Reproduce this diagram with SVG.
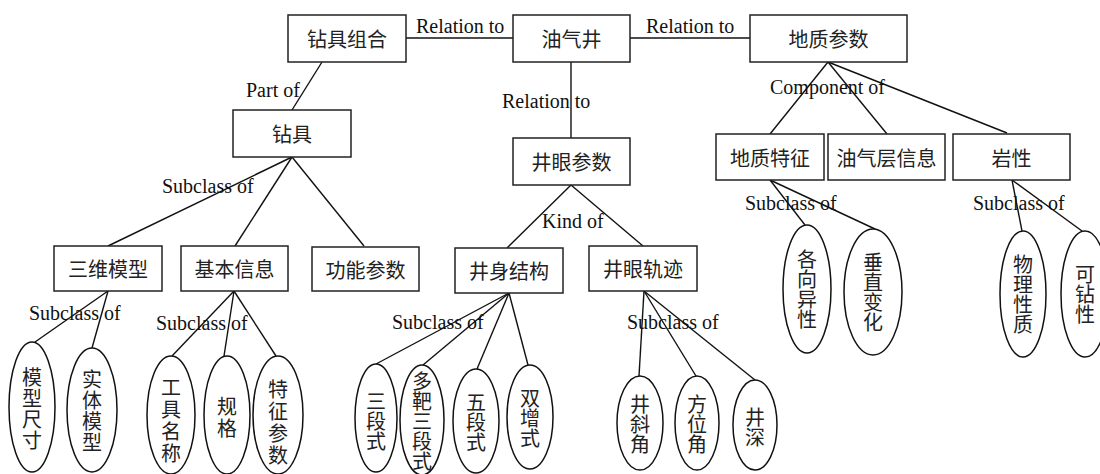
<svg xmlns="http://www.w3.org/2000/svg" width="1100" height="474" viewBox="0 0 1100 474">
<style>
.box{fill:#fff;stroke:#222;stroke-width:1.5}
.ell{fill:#fff;stroke:#111;stroke-width:1.5}
.ln{stroke:#111;stroke-width:1.4;fill:none}
.cn{font-family:"Noto Sans CJK SC",sans-serif;font-size:20px;fill:#222;text-anchor:middle;dominant-baseline:central}
.vt{font-family:"Noto Sans CJK SC",sans-serif;font-size:20px;fill:#222;text-anchor:middle;writing-mode:vertical-rl}
.lb{font-family:"Liberation Serif",serif;font-size:20px;fill:#111}
</style>
<rect width="1100" height="474" fill="#fff"/>
<g id="connectors">
<line class="ln" x1="406" y1="38" x2="513" y2="38"/>
<line class="ln" x1="630" y1="38" x2="750" y2="38"/>
<line class="ln" x1="571" y1="62" x2="571" y2="138"/>
<line class="ln" x1="322" y1="62" x2="292" y2="110"/>
<line class="ln" x1="292" y1="157" x2="108" y2="246"/>
<line class="ln" x1="292" y1="157" x2="235" y2="246"/>
<line class="ln" x1="292" y1="157" x2="364" y2="246"/>
<line class="ln" x1="571" y1="185" x2="507" y2="248"/>
<line class="ln" x1="571" y1="185" x2="643" y2="246"/>
<line class="ln" x1="828" y1="62" x2="770" y2="134"/>
<line class="ln" x1="828" y1="62" x2="887" y2="134"/>
<line class="ln" x1="828" y1="62" x2="1007" y2="133"/>
<line class="ln" x1="108" y1="291" x2="35" y2="342"/>
<line class="ln" x1="108" y1="291" x2="92" y2="348"/>
<line class="ln" x1="234" y1="291" x2="172" y2="356"/>
<line class="ln" x1="234" y1="291" x2="224" y2="356"/>
<line class="ln" x1="234" y1="291" x2="276" y2="356"/>
<line class="ln" x1="509" y1="293" x2="376" y2="364"/>
<line class="ln" x1="509" y1="293" x2="423" y2="365"/>
<line class="ln" x1="509" y1="293" x2="477" y2="369"/>
<line class="ln" x1="509" y1="293" x2="528" y2="365"/>
<line class="ln" x1="644" y1="291" x2="639" y2="376"/>
<line class="ln" x1="644" y1="291" x2="696" y2="376"/>
<line class="ln" x1="644" y1="291" x2="755" y2="380"/>
<line class="ln" x1="770" y1="180" x2="805" y2="225"/>
<line class="ln" x1="770" y1="180" x2="875" y2="229"/>
<line class="ln" x1="1012" y1="180" x2="1022" y2="231"/>
<line class="ln" x1="1012" y1="180" x2="1082" y2="231"/>
<text class="lb" x="416" y="33">Relation to</text>
<text class="lb" x="646" y="33">Relation to</text>
<text class="lb" x="246" y="97">Part of</text>
<text class="lb" x="502" y="108">Relation to</text>
<text class="lb" x="770" y="94">Component of</text>
<text class="lb" x="162" y="193">Subclass of</text>
<text class="lb" x="542" y="228">Kind of</text>
<text class="lb" x="745" y="210">Subclass of</text>
<text class="lb" x="973" y="210">Subclass of</text>
<text class="lb" x="29" y="320">Subclass of</text>
<text class="lb" x="156" y="330">Subclass of</text>
<text class="lb" x="392" y="329">Subclass of</text>
<text class="lb" x="627" y="329">Subclass of</text>
</g>
<g id="n-zjzh"><rect class="box" x="288" y="15" width="118" height="47"/><text class="cn" x="347" y="38.5">钻具组合</text></g>
<g id="n-yqj"><rect class="box" x="513" y="15" width="117" height="47"/><text class="cn" x="571.5" y="38.5">油气井</text></g>
<g id="n-dzcs"><rect class="box" x="750" y="15" width="157" height="47"/><text class="cn" x="828.5" y="38.5">地质参数</text></g>
<g id="n-zj"><rect class="box" x="233" y="110" width="118" height="47"/><text class="cn" x="292" y="133.5">钻具</text></g>
<g id="n-jycs"><rect class="box" x="513" y="138" width="117" height="47"/><text class="cn" x="571.5" y="161.5">井眼参数</text></g>
<g id="n-dztz"><rect class="box" x="716" y="134" width="108" height="46"/><text class="cn" x="770" y="157">地质特征</text></g>
<g id="n-yqcxx"><rect class="box" x="828" y="134" width="117" height="46"/><text class="cn" x="886.5" y="157">油气层信息</text></g>
<g id="n-yx"><rect class="box" x="953" y="134" width="117" height="46"/><text class="cn" x="1011.5" y="157">岩性</text></g>
<g id="n-swmx"><rect class="box" x="54" y="246" width="108" height="45"/><text class="cn" x="108" y="268.5">三维模型</text></g>
<g id="n-jbxx"><rect class="box" x="181" y="246" width="107" height="45"/><text class="cn" x="234.5" y="268.5">基本信息</text></g>
<g id="n-gncs"><rect class="box" x="312" y="247" width="107" height="44"/><text class="cn" x="365.5" y="269">功能参数</text></g>
<g id="n-jsjg"><rect class="box" x="455" y="248" width="108" height="45"/><text class="cn" x="509" y="270.5">井身结构</text></g>
<g id="n-jygj"><rect class="box" x="589" y="246" width="108" height="45"/><text class="cn" x="643" y="268.5">井眼轨迹</text></g>
<g id="n-mxcc"><ellipse class="ell" cx="32" cy="407" rx="23" ry="65"/><text class="vt" x="32" y="409" letter-spacing="1">模型尺寸</text></g>
<g id="n-stmx"><ellipse class="ell" cx="92" cy="410" rx="25" ry="62"/><text class="vt" x="92" y="411" letter-spacing="1">实体模型</text></g>
<g id="n-gjmc"><ellipse class="ell" cx="171" cy="415" rx="24" ry="59"/><text class="vt" x="171" y="421" letter-spacing="2">工具名称</text></g>
<g id="n-gg"><ellipse class="ell" cx="227" cy="415" rx="23" ry="59"/><text class="vt" x="227" y="418" letter-spacing="2">规格</text></g>
<g id="n-tzcs"><ellipse class="ell" cx="278" cy="415" rx="25" ry="59"/><text class="vt" x="278" y="423" letter-spacing="2">特征参数</text></g>
<g id="n-sds"><ellipse class="ell" cx="376" cy="418" rx="21" ry="54"/><text class="vt" x="376" y="421" letter-spacing="0">三段式</text></g>
<g id="n-dbsds"><ellipse class="ell" cx="422" cy="420" rx="22" ry="55"/><text class="vt" x="422" y="421" letter-spacing="0">多靶三段式</text></g>
<g id="n-wds"><ellipse class="ell" cx="476" cy="421" rx="23" ry="52"/><text class="vt" x="476" y="422" letter-spacing="0">五段式</text></g>
<g id="n-szs"><ellipse class="ell" cx="530" cy="417" rx="23" ry="52"/><text class="vt" x="530" y="418" letter-spacing="0">双增式</text></g>
<g id="n-jxj"><ellipse class="ell" cx="640" cy="423" rx="23" ry="47"/><text class="vt" x="640" y="424" letter-spacing="0">井斜角</text></g>
<g id="n-fwj"><ellipse class="ell" cx="697" cy="423" rx="22" ry="47"/><text class="vt" x="697" y="424" letter-spacing="0">方位角</text></g>
<g id="n-js"><ellipse class="ell" cx="755" cy="425" rx="22" ry="45"/><text class="vt" x="755" y="427" letter-spacing="0">井深</text></g>
<g id="n-gxyx"><ellipse class="ell" cx="807" cy="289" rx="24" ry="64"/><text class="vt" x="807" y="289" letter-spacing="0">各向异性</text></g>
<g id="n-czbh"><ellipse class="ell" cx="873" cy="292" rx="29" ry="63"/><text class="vt" x="873" y="292" letter-spacing="0">垂直变化</text></g>
<g id="n-wlxz"><ellipse class="ell" cx="1023" cy="294" rx="23" ry="63"/><text class="vt" x="1023" y="294" letter-spacing="0">物理性质</text></g>
<g id="n-kzx"><ellipse class="ell" cx="1085" cy="294" rx="24" ry="63"/><text class="vt" x="1085" y="294" letter-spacing="0">可钻性</text></g>
</svg>
